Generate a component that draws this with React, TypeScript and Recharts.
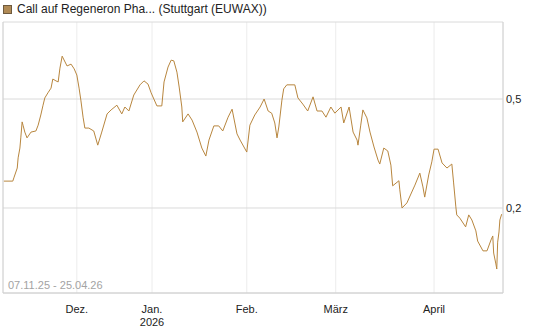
import React from "react";
import { LineChart, Line, XAxis, YAxis, CartesianGrid, ReferenceLine } from "recharts";

// session index (trading-day position) and price
const sessions = [0.2, 2.2, 2.5, 3.2, 3.4, 3.8, 4.0, 4.3, 4.5, 4.9, 5.4, 6.3, 7.4, 7.9, 8.5, 9.0, 9.4, 10.1, 10.8, 11.2, 11.9, 12.4, 12.8, 13.3, 13.5, 14.4, 15.3, 16.0, 16.6, 17.1, 17.5, 18.0, 18.4, 19.3, 20.4, 21.3, 22.2, 23.4, 24.3, 25.6, 26.7, 27.4, 28.3, 29.4, 30.8, 31.7, 32.6, 33.3, 34.6, 35.7, 36.2, 37.1, 37.8, 38.4, 39.1, 39.6, 40.2, 40.4, 41.6, 42.5, 43.6, 44.7, 45.6, 46.3, 47.4, 48.5, 49.4, 50.6, 51.5, 52.6, 53.3, 54.8, 55.5, 56.6, 57.8, 58.7, 59.6, 60.4, 61.1, 61.6, 62.0, 62.7, 63.1, 63.8, 65.6, 66.3, 67.4, 68.5, 69.7, 70.6, 71.7, 72.6, 73.7, 74.6, 76.0, 76.6, 77.8, 78.7, 79.6, 79.8, 80.4, 80.9, 81.8, 82.5, 83.4, 84.3, 84.7, 85.6, 86.5, 87.2, 87.6, 89.0, 89.2, 89.7, 90.8, 91.9, 92.6, 93.7, 94.4, 94.8, 95.7, 96.4, 96.9, 97.8, 98.7, 99.8, 100.9, 101.3, 101.8, 102.0, 102.7, 104.0, 104.7, 105.4, 106.3, 106.7, 107.9, 108.8, 109.7, 110.1, 110.3, 110.8, 111.0, 111.2, 111.5, 111.7, 112.1];
const prices = [0.274, 0.274, 0.285, 0.31, 0.338, 0.365, 0.393, 0.437, 0.428, 0.409, 0.393, 0.409, 0.412, 0.428, 0.456, 0.483, 0.503, 0.517, 0.53, 0.555, 0.55, 0.547, 0.585, 0.618, 0.613, 0.591, 0.596, 0.583, 0.566, 0.53, 0.497, 0.45, 0.42, 0.42, 0.412, 0.373, 0.409, 0.459, 0.47, 0.483, 0.459, 0.478, 0.467, 0.511, 0.539, 0.55, 0.541, 0.517, 0.481, 0.481, 0.547, 0.588, 0.607, 0.605, 0.574, 0.533, 0.478, 0.437, 0.459, 0.442, 0.409, 0.365, 0.343, 0.387, 0.426, 0.426, 0.412, 0.45, 0.472, 0.404, 0.387, 0.354, 0.428, 0.456, 0.478, 0.5, 0.467, 0.461, 0.434, 0.393, 0.423, 0.497, 0.528, 0.539, 0.539, 0.503, 0.486, 0.467, 0.506, 0.467, 0.467, 0.45, 0.478, 0.461, 0.478, 0.434, 0.478, 0.409, 0.387, 0.373, 0.426, 0.47, 0.448, 0.409, 0.368, 0.332, 0.321, 0.365, 0.357, 0.318, 0.261, 0.275, 0.25, 0.2, 0.214, 0.244, 0.263, 0.296, 0.258, 0.23, 0.291, 0.327, 0.362, 0.362, 0.324, 0.31, 0.321, 0.269, 0.203, 0.181, 0.172, 0.148, 0.181, 0.167, 0.137, 0.109, 0.082, 0.082, 0.112, 0.123, 0.076, 0.046, 0.032, 0.106, 0.134, 0.167, 0.183];

const monthTicks = [16.6, 33.5, 54.8, 74.8, 96.9];
const monthLabels = ["Dez.", "Jan.", "Feb.", "März", "April"];
const yearLabels = ["", "2026", "", "", ""];
const yTicks = [0.2, 0.5];

const title = "Call auf Regeneron Pha... (Stuttgart (EUWAX))";
const rangeLabel = "07.11.25 - 25.04.26";

const data = sessions.map((s, i) => ({ s, p: prices[i] }));

const FONT = "'Liberation Sans', Arial, sans-serif";
const LINE_COLOR = "#b8863e";

const MonthTick = (props: any) => {
  const { x, y, payload } = props;
  const idx = monthTicks.indexOf(payload.value);
  return (
    <g>
      <text x={x} y={y + 12} textAnchor="middle" fontSize={11} fontFamily={FONT} fill="#222">
        {monthLabels[idx]}
      </text>
      {yearLabels[idx] ? (
        <text x={x} y={y + 25} textAnchor="middle" fontSize={11} fontFamily={FONT} fill="#222">
          {yearLabels[idx]}
        </text>
      ) : null}
    </g>
  );
};

export default function App() {
  return (
    <div style={{ position: "absolute", left: 0, top: 0, width: 545, height: 327, background: "#fff", fontFamily: FONT }}>
      <div style={{ position: "absolute", left: 3, top: 2, display: "flex", alignItems: "center", fontSize: 12, color: "#222", whiteSpace: "nowrap" }}>
        <span style={{ display: "inline-block", width: 7, height: 7, background: "#b08a55", border: "1px solid #6e5a3e", marginRight: 5 }} />
        <span>{title}</span>
      </div>
      <LineChart width={545} height={327} data={data} margin={{ top: 22, right: 0, bottom: 0, left: 3 }}>
        <CartesianGrid horizontal={false} vertical={true} stroke="#ececec" />
        <CartesianGrid horizontal={true} vertical={false} stroke="#dadada" />
        <XAxis
          dataKey="s"
          type="number"
          domain={[0, 112.4]}
          ticks={monthTicks}
          interval={0}
          height={34}
          tickLine={false}
          axisLine={{ stroke: "#d0d0d0" }}
          tick={<MonthTick />}
        />
        <YAxis
          orientation="right"
          domain={[-0.034, 0.712]}
          ticks={yTicks}
          width={42}
          tickLine={false}
          axisLine={{ stroke: "#d0d0d0" }}
          tick={{ fontSize: 11, fill: "#222", fontFamily: FONT, dx: -5 }}
          tickFormatter={(v: number) => v.toFixed(1).replace(".", ",")}
          allowDataOverflow
        />
        <ReferenceLine x={0} stroke="#d0d0d0" />
        <Line type="linear" dataKey="p" stroke={LINE_COLOR} strokeWidth={1} dot={false} isAnimationActive={false} />
      </LineChart>
      <div style={{ position: "absolute", left: 8, top: 279, fontSize: 11, color: "#a3a3a3", whiteSpace: "nowrap" }}>
        {rangeLabel}
      </div>
    </div>
  );
}
